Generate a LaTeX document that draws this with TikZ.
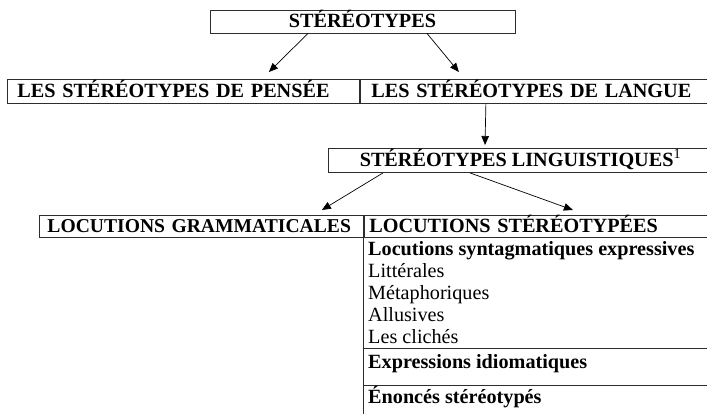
\documentclass[tikz,border=0pt]{standalone}
\usepackage{fontspec}
\setmainfont{Liberation Serif}
\usepackage{xcolor}
\usepackage{tikz}
\usetikzlibrary{arrows.meta,positioning}
\definecolor{trait}{RGB}{45,45,45}

\begin{document}
\begin{tikzpicture}[x=1pt,y=-1pt,
    fleche/.style={-{Triangle[length=9pt,width=7.5pt]},line width=0.7pt},
    case/.style={draw=trait,line width=0.9pt,inner ysep=0pt,minimum height=24pt,
      text height=15pt,text depth=3pt,font=\fontsize{20.2}{22}\selectfont\bfseries},
    item/.style={anchor=base west,inner sep=0pt,font=\fontsize{20.2}{22}\selectfont}]
  \useasboundingbox (0,0) rectangle (707,414);
  \clip (0,0) rectangle (707,414);
  % niveaux
  \node[case,minimum width=305pt,minimum height=23pt] (stereo) at (362.5,21.5) {STÉRÉOTYPES};
  \node[case,anchor=north west,inner xsep=10pt,text width=332pt,align=left] (pensee) at (7,79) {LES STÉRÉOTYPES DE PENSÉE};
  \node[case,anchor=north west,inner xsep=11pt,text width=331pt,align=left] (langue) at (pensee.north east) {LES STÉRÉOTYPES DE LANGUE};
  \node[case,anchor=north west,minimum width=384pt] (linguist) at (328,148) {STÉRÉOTYPES LINGUISTIQUES\textsuperscript{\mdseries 1}};
  \node[case,anchor=north west,inner xsep=8pt,text width=308pt,align=left,minimum height=22pt,
    font=\fontsize{19.6}{22}\selectfont\bfseries] (gramm) at (39,215) {\mbox{LOCUTIONS GRAMMATICALES}};
  \node[case,anchor=north west,inner xsep=5pt,text width=339pt,align=left,minimum height=22pt] (locst) at (gramm.north east) {LOCUTIONS STÉRÉOTYPÉES};
  % fleches
  \draw[fleche] ([xshift=-54.5pt]stereo.south) -- ([xshift=-91pt,yshift=7pt]langue.north west);
  \draw[fleche] ([xshift=64.5pt]stereo.south) -- ([xshift=99pt,yshift=7pt]langue.north west);
  \draw[fleche] ([xshift=126pt]langue.south west) -- ([xshift=157pt,yshift=3pt]linguist.north west);
  \draw[fleche] ([xshift=55pt]linguist.south west) -- ([xshift=-42pt,yshift=5pt]gramm.north east);
  \draw[fleche] ([xshift=142pt]linguist.south west) -- ([xshift=209pt,yshift=5pt]locst.north west);
  % colonne
  \draw[trait,line width=0.9pt] (locst.south west) -- ++(0,190);
  \draw[trait,line width=0.9pt] (363,348) -- (712,348) (363,385) -- (712,385);
  \node[item,font=\fontsize{20.2}{22}\selectfont\bfseries] (synt) at (368,255) {Locutions syntagmatiques expressives};
  \foreach \txt [count=\i] in {Littérales,Métaphoriques,Allusives,Les clichés}
    {\node[item] (sous\i) at (368,255+22*\i) {\txt};}
  \node[item,font=\fontsize{20.2}{22}\selectfont\bfseries] (idiom) at (368,368) {Expressions idiomatiques};
  \node[item,font=\fontsize{20.2}{22}\selectfont\bfseries] (enonc) at (368,403) {Énoncés stéréotypés};
\end{tikzpicture}
\end{document}
